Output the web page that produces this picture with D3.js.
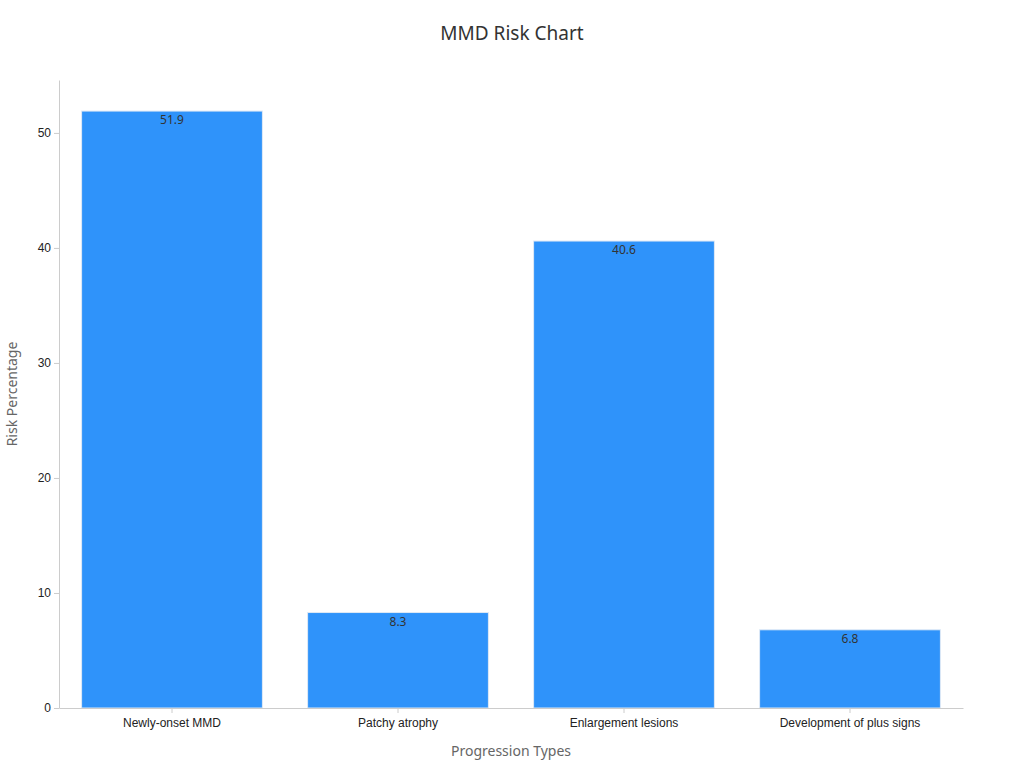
<!DOCTYPE html>
<html>
<head>
<meta charset="utf-8">
<script src="https://cdn.jsdelivr.net/npm/d3@7"></script>
<style>
  body { margin: 0; background: #fff; font-family: "Noto Sans", "DejaVu Sans", sans-serif; }
</style>
</head>
<body>
<svg id="chart" width="1024" height="768"></svg>
<script>
const categories = ["Newly-onset MMD", "Patchy atrophy", "Enlargement lesions", "Development of plus signs"];
const values = [51.9, 8.3, 40.6, 6.8];
const yTicks = [0, 10, 20, 30, 40, 50];

const margin = { top: 80, right: 61, bottom: 60, left: 59 };
const width = 1024 - margin.left - margin.right;
const height = 768 - margin.top - margin.bottom;

const svg = d3.select("#chart");

svg.append("text")
  .attr("x", 512).attr("y", 40)
  .attr("text-anchor", "middle")
  .attr("font-size", 19).attr("fill", "#333")
  .text("MMD Risk Chart");

const g = svg.append("g").attr("transform", `translate(${margin.left},${margin.top})`);

const x = d3.scaleBand().domain(categories).range([0, width]).paddingInner(0.2).paddingOuter(0.1);
const y = d3.scaleLinear().domain([0, 54.6]).range([height, 0]);

g.selectAll(".bar").data(values).join("rect")
  .attr("class", "bar")
  .attr("x", (d, i) => x(categories[i]))
  .attr("y", d => y(d))
  .attr("width", x.bandwidth())
  .attr("height", d => height - y(d))
  .attr("fill", "#2f93fa")
  .attr("stroke", "#dfe9f5").attr("stroke-width", 1);

g.selectAll(".lbl").data(values).join("text")
  .attr("class", "lbl")
  .attr("x", (d, i) => x(categories[i]) + x.bandwidth() / 2)
  .attr("y", d => y(d) + 13)
  .attr("text-anchor", "middle")
  .attr("font-size", 12).attr("fill", "#333")
  .text(d => d);

const xAxis = g.append("g").attr("transform", `translate(0,${height})`)
  .call(d3.axisBottom(x).tickSize(5).tickSizeOuter(0));
xAxis.selectAll("text").attr("font-size", 12).attr("fill", "#222").attr("dy", "0.9em");
xAxis.selectAll("line, path").attr("stroke", "#ccc");

const yAxis = g.append("g").call(d3.axisLeft(y).tickValues(yTicks).tickSize(5).tickSizeOuter(0));
yAxis.selectAll("text").attr("font-size", 12).attr("fill", "#222");
yAxis.selectAll("line, path").attr("stroke", "#ccc");

svg.append("text")
  .attr("x", margin.left + width / 2).attr("y", 756)
  .attr("text-anchor", "middle").attr("font-size", 14).attr("fill", "#666")
  .text("Progression Types");

svg.append("text")
  .attr("transform", `translate(17,${margin.top + height / 2}) rotate(-90)`)
  .attr("text-anchor", "middle").attr("font-size", 14).attr("fill", "#666")
  .text("Risk Percentage");
</script>
</body>
</html>
